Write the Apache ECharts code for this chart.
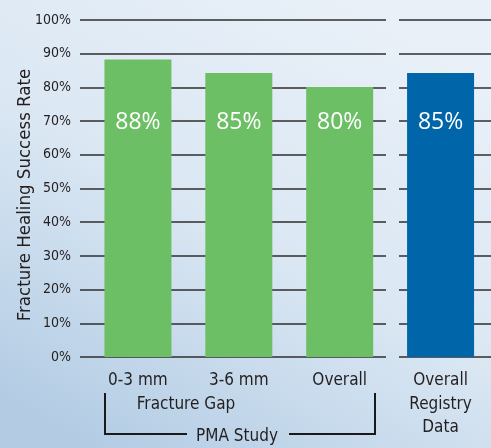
<!DOCTYPE html>
<html>
<head>
<meta charset="utf-8">
<script src="https://cdn.jsdelivr.net/npm/echarts@6/dist/echarts.min.js"></script>
<style>
  html, body { margin: 0; padding: 0; }
  #main { width: 491px; height: 448px; }
</style>
</head>
<body>
<div id="main"></div>
<script>
const categories = ['0-3 mm', '3-6 mm', 'Overall', 'Overall\nRegistry\nData']
const rates = [88.3, 84.3, 80.1, 84.3]
const rateLabels = ['88%', '85%', '80%', '85%']
const barColors = ['#6dbf65', '#6dbf65', '#6dbf65', '#0066a9']

const narrow = '"Liberation Sans Narrow", "DejaVu Sans Condensed", sans-serif'
const ink = '#231f20'
const plotHeight = 337
// all value labels sit at the same level (about 70%)
const labelLevel = 69.5

let myChart = echarts.init(document.getElementById('main'))

let options = {
    backgroundColor: {
        type: 'linear', x: 0.7, y: 0, x2: 0.2, y2: 1,
        colorStops: [
            { offset: 0, color: '#e9f0f8' },
            { offset: 0.5, color: '#dae7f3' },
            { offset: 1, color: '#b3cce4' }
        ]
    },
    animation: false,
    grid: [
        // gridlines of the PMA study part
        { left: 80, top: 20, width: 306, height: plotHeight },
        // gridlines of the registry part
        { left: 399, top: 20, width: 100, height: plotHeight },
        // bars
        { left: 87.5, top: 20, width: 408, height: plotHeight }
    ],
    xAxis: [
        { gridIndex: 0, type: 'category', data: [''], show: false },
        { gridIndex: 1, type: 'category', data: [''], show: false },
        {
            gridIndex: 2, type: 'category', data: categories,
            axisLine: { show: false }, axisTick: { show: false },
            axisLabel: {
                margin: 12, color: ink, fontFamily: narrow, fontSize: 17,
                lineHeight: 23.5, interval: 0
            }
        }
    ],
    yAxis: [
        {
            gridIndex: 0, type: 'value', min: 0, max: 100, interval: 10,
            axisLine: { show: false }, axisTick: { show: false },
            splitLine: { lineStyle: { color: '#2e2e2e', width: 1.5 } },
            axisLabel: {
                formatter: '{value}%', margin: 9, color: ink,
                fontFamily: narrow, fontSize: 14
            },
            name: 'Fracture Healing Success Rate',
            nameLocation: 'middle', nameGap: 45, nameMoveOverlap: false,
            nameTextStyle: {
                color: ink, fontFamily: narrow, fontSize: 18.5,
                padding: [0, 13, 0, 0]
            }
        },
        {
            gridIndex: 1, type: 'value', min: 0, max: 100, interval: 10,
            axisLine: { show: false }, axisTick: { show: false },
            axisLabel: { show: false },
            splitLine: { lineStyle: { color: '#2e2e2e', width: 1.5 } }
        },
        {
            gridIndex: 2, type: 'value', min: 0, max: 100, interval: 10,
            show: false
        }
    ],
    series: [
        {
            type: 'bar', xAxisIndex: 2, yAxisIndex: 2,
            barWidth: 67,
            label: {
                show: true, align: 'center', verticalAlign: 'middle',
                color: '#ffffff', fontFamily: '"Open Sans", sans-serif', fontSize: 23
            },
            data: rates.map((v, i) => ({
                value: v,
                itemStyle: { color: barColors[i] },
                label: {
                    formatter: rateLabels[i],
                    position: ['50%', (v - labelLevel) / 100 * plotHeight]
                }
            }))
        }
    ],
    graphic: [
        {
            type: 'text', style: {
                text: 'Fracture Gap', x: 186, y: 405, align: 'center', verticalAlign: 'middle',
                fill: ink, font: '17px ' + narrow
            }
        },
        {
            type: 'text', style: {
                text: 'PMA Study', x: 237, y: 437, align: 'center', verticalAlign: 'middle',
                fill: ink, font: '17px ' + narrow
            }
        },
        {
            type: 'polyline', shape: { points: [[105, 393], [105, 434], [187, 434]] },
            style: { stroke: '#1a1a1a', lineWidth: 2, fill: null }
        },
        {
            type: 'polyline', shape: { points: [[289, 434], [375, 434], [375, 393]] },
            style: { stroke: '#1a1a1a', lineWidth: 2, fill: null }
        }
    ]
}

myChart.setOption(options)
</script>
</body>
</html>
